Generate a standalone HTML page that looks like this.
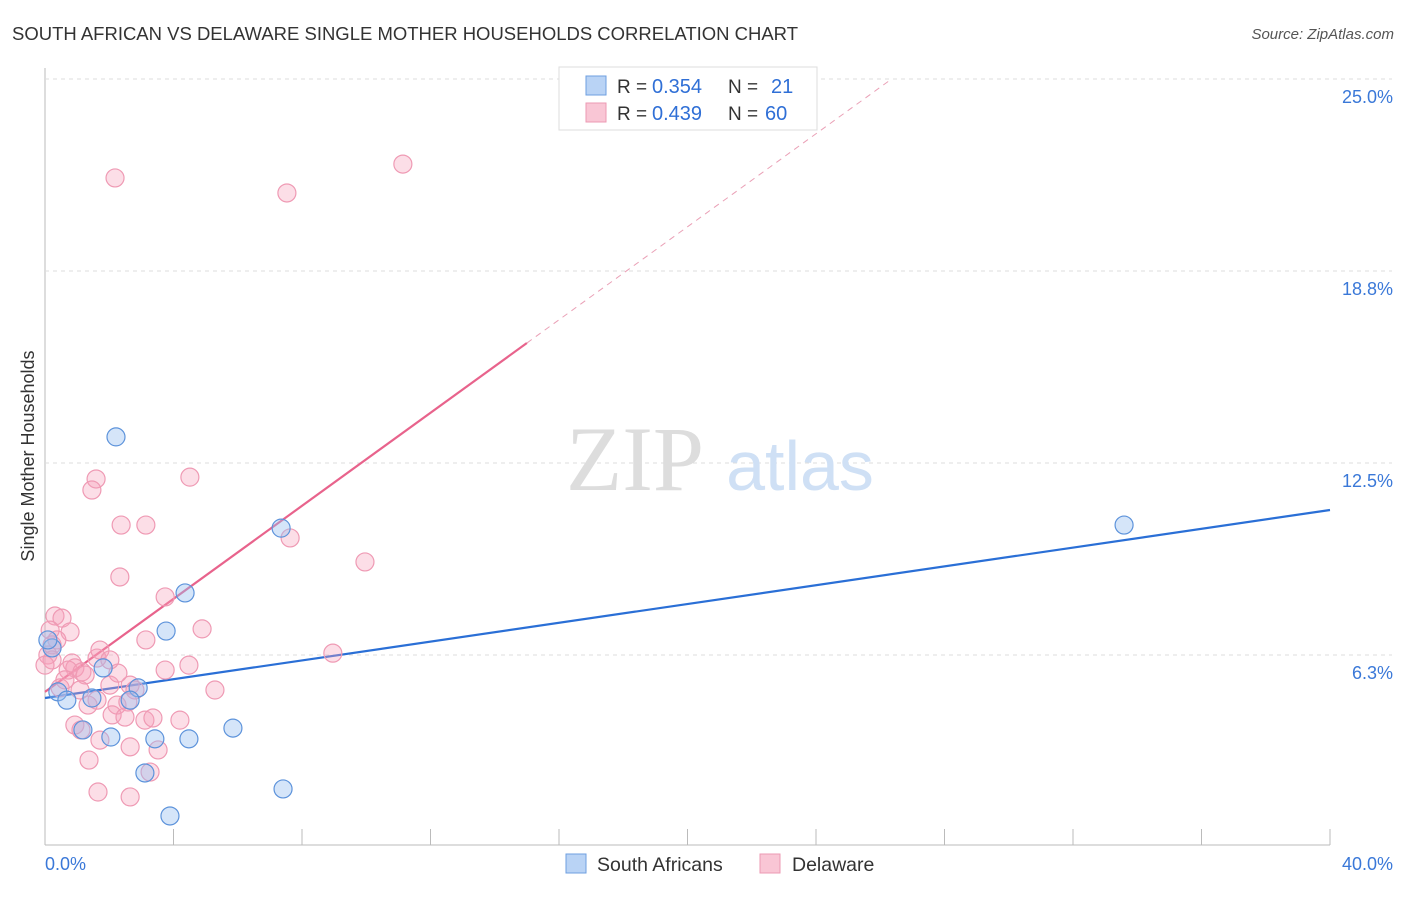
<!DOCTYPE html>
<html><head><meta charset="utf-8"><style>
body{margin:0;background:#fff;font-family:"Liberation Sans",sans-serif;}
</style></head><body>
<svg id="chart" width="1406" height="892" xmlns="http://www.w3.org/2000/svg">
<text x="12" y="40" font-size="18" fill="#333" textLength="786" lengthAdjust="spacingAndGlyphs">SOUTH AFRICAN VS DELAWARE SINGLE MOTHER HOUSEHOLDS CORRELATION CHART</text>
<text x="1394" y="39" font-size="15" fill="#555" font-style="italic" text-anchor="end">Source: ZipAtlas.com</text>
<text transform="translate(34,456) rotate(-90)" font-size="18" fill="#333" text-anchor="middle">Single Mother Households</text>
<g id="grid"></g>
<g>
<text x="635" y="490" font-size="92" fill="#ddd" font-family="Liberation Serif,serif" text-anchor="middle">ZIP</text>
<text x="800" y="490" font-size="70" fill="#cfe0f5" text-anchor="middle">atlas</text>
</g>
<g id="lines"></g>
<g id="pts"></g>
<g>
<rect x="559" y="67" width="258" height="63" fill="#fff" stroke="#ddd"/>
<rect x="586" y="76" width="20" height="19" fill="#b9d3f5" stroke="#6e9fe0"/>
<rect x="586" y="103" width="20" height="19" fill="#f9c6d5" stroke="#ec9ab3"/>
<text x="617" y="93" font-size="19" fill="#333">R =</text><text x="652" y="93" font-size="20" fill="#2f6fd6">0.354</text>
<text x="728" y="93" font-size="19" fill="#333">N =</text><text x="771" y="93" font-size="20" fill="#2f6fd6">21</text>
<text x="617" y="120" font-size="19" fill="#333">R =</text><text x="652" y="120" font-size="20" fill="#2f6fd6">0.439</text>
<text x="728" y="120" font-size="19" fill="#333">N =</text><text x="765" y="120" font-size="20" fill="#2f6fd6">60</text>
</g>
<g>
<rect x="566" y="854" width="20" height="19" fill="#b9d3f5" stroke="#6e9fe0"/>
<text x="597" y="871" font-size="19.5" fill="#333">South Africans</text>
<rect x="760" y="854" width="20" height="19" fill="#f9c6d5" stroke="#ec9ab3"/>
<text x="792" y="871" font-size="19.5" fill="#333">Delaware</text>
</g>
</svg>
<script>
const xTicks=[0,4,8,12,16,20,24,28,32,36,40];
const yTicks=[6.25,12.5,18.75,25];
const yTickLabels=["6.3%","12.5%","18.8%","25.0%"];
const blueX=[2.21,7.35,33.59,4.36,3.77,1.81,2.90,0.40,0.68,2.65,1.18,2.05,3.42,4.48,5.85,3.11,7.41,3.89,0.22,1.46,0.09];
const blueY=[13.35,10.38,10.48,8.27,7.03,5.83,5.18,5.05,4.78,4.78,3.81,3.58,3.52,3.52,3.87,2.41,1.89,1.01,6.48,4.85,6.74];
const pinkX=[2.18,7.53,11.14,1.59,1.46,4.51,2.37,3.14,2.33,7.63,9.96,3.74,3.14,4.89,8.96,0.31,0.53,0.78,0.16,0.22,0.09,0.84,0.93,0.72,1.15,1.25,1.62,2.02,2.65,2.27,3.74,4.48,5.29,1.62,2.24,2.58,2.09,2.49,3.11,3.36,1.09,0.47,1.71,2.65,3.52,1.37,3.27,1.65,2.65,0.22,0.37,0.62,1.34,0.93,1.71,2.80,1.12,4.20,2.02,0.00];
const pinkY=[21.78,21.29,22.23,11.98,11.62,12.04,10.48,10.48,8.79,10.06,9.28,8.14,6.74,7.10,6.31,7.52,7.45,7.00,7.06,6.58,6.25,5.99,5.83,5.76,5.70,5.60,6.15,5.27,5.27,5.66,5.76,5.92,5.11,4.78,4.62,4.72,4.30,4.23,4.13,4.20,5.11,5.18,3.48,3.26,3.16,2.83,2.44,1.79,1.63,6.09,6.74,5.44,4.62,3.97,6.41,5.11,3.81,4.13,6.09,5.92];
const blueTrend=[4.85,10.97];
const pinkTrend=[5.05,0.757];
const NS="http://www.w3.org/2000/svg";
const sx=v=>45+v/40*1285;
const sy=v=>847-v/6.25*192;
function mk(t,a,p){const e=document.createElementNS(NS,t);for(const k in a)e.setAttribute(k,a[k]);p.appendChild(e);return e;}
const grid=document.getElementById('grid');
mk('line',{x1:45,y1:68,x2:45,y2:845,stroke:'#bbb'},grid);
mk('line',{x1:45,y1:845,x2:1330,y2:845,stroke:'#bbb'},grid);
xTicks.forEach(t=>{const e=mk('line',{x1:sx(t),y1:829,x2:sx(t),y2:845,stroke:'#bbb'},grid);

});
yTicks.forEach((t,i)=>{const l=mk('line',{x1:45,y1:sy(t),x2:1392,y2:sy(t),stroke:'#ddd','stroke-dasharray':'4,4'},grid);


const tx=mk('text',{x:1393,y:sy(t)+24,'font-size':18,fill:'#3a78d8','text-anchor':'end'},grid);tx.textContent=yTickLabels[i];

});
const x0=mk('text',{x:45,y:870,'font-size':18,fill:'#3a78d8'},grid);x0.textContent='0.0%';


const x1=mk('text',{x:1393,y:870,'font-size':18,fill:'#3a78d8','text-anchor':'end'},grid);x1.textContent='40.0%';


const pts=document.getElementById('pts');
pinkX.forEach((x,i)=>{const c=mk('circle',{cx:sx(x),cy:sy(pinkY[i]),r:9,fill:'rgba(245,160,185,0.35)',stroke:'#ef9ab4','stroke-width':1.2},pts);

});
blueX.forEach((x,i)=>{const c=mk('circle',{cx:sx(x),cy:sy(blueY[i]),r:9,fill:'rgba(150,190,240,0.4)',stroke:'#5d93db','stroke-width':1.2},pts);

});
const lines=document.getElementById('lines');
const bl=mk('line',{x1:sx(0),y1:sy(blueTrend[0]),x2:sx(40),y2:sy(blueTrend[1]),stroke:'#2a6fd6','stroke-width':2.2},lines);


const pe=v=>pinkTrend[0]+pinkTrend[1]*v;
const pl=mk('line',{x1:sx(0),y1:sy(pe(0)),x2:sx(15),y2:sy(pe(15)),stroke:'#e8638c','stroke-width':2.2},lines);


const pd=mk('line',{x1:sx(15),y1:sy(pe(15)),x2:sx(26.3),y2:sy(pe(26.3)),stroke:'#eaa0b6','stroke-width':1,'stroke-dasharray':'6,5'},lines);


</script>
</body></html>
